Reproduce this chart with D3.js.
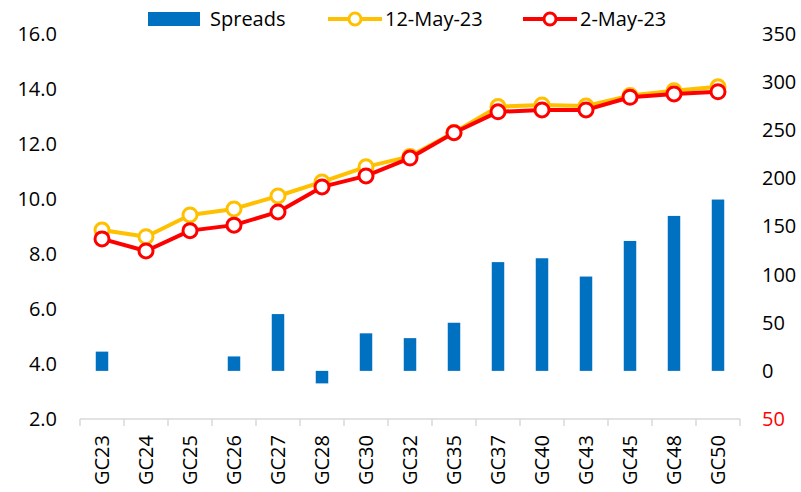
<!DOCTYPE html>
<html>
<head>
<meta charset="utf-8">
<script src="https://cdn.jsdelivr.net/npm/d3@7"></script>
<style>
  body { margin: 0; background: #fff; }
  text { font-family: "Open Sans", Lato, sans-serif; fill: #000; }
</style>
</head>
<body>
<svg id="chart"></svg>
<script>
const bonds = ['GC23', 'GC24', 'GC25', 'GC26', 'GC27', 'GC28', 'GC30', 'GC32',
  'GC35', 'GC37', 'GC40', 'GC43', 'GC45', 'GC48', 'GC50'];
const spreads = [20, 0, 0, 15, 59, -13, 39, 34, 50, 113, 117, 98, 135, 161, 178];
const may12 = [8.87, 8.63, 9.42, 9.64, 10.11, 10.62, 11.17, 11.55, 12.42, 13.36, 13.42, 13.38, 13.76, 13.94, 14.08];
const may2 = [8.55, 8.11, 8.85, 9.05, 9.53, 10.44, 10.84, 11.49, 12.41, 13.17, 13.24, 13.24, 13.7, 13.82, 13.9];
const leftTicks = [2, 4, 6, 8, 10, 12, 14, 16];
const rightTicks = [-50, 0, 50, 100, 150, 200, 250, 300, 350];

const width = 801;
const height = 492;
const m = { top: 34, right: 61, bottom: 73, left: 80 };

const svg = d3.select('#chart')
  .attr('width', width)
  .attr('height', height);

const x = d3.scaleBand()
  .domain(bonds)
  .range([m.left, width - m.right]);

const yL = d3.scaleLinear()
  .domain([2, 16])
  .range([height - m.bottom, m.top]);

const yR = d3.scaleLinear()
  .domain([-50, 350])
  .range([height - m.bottom, m.top]);

const fontSize = 20;

// left axis
svg.append('g')
  .attr('transform', `translate(${m.left - 23},0)`)
  .call(d3.axisLeft(yL).tickValues(leftTicks).tickFormat(d3.format('.1f')).tickSize(0).tickPadding(0))
  .call(g => g.select('.domain').remove())
  .selectAll('text')
    .style('font-size', fontSize + 'px')
    .attr('font-family', null);

// right axis
svg.append('g')
  .attr('transform', `translate(${width - m.right + 22},0)`)
  .call(d3.axisRight(yR).tickValues(rightTicks).tickFormat(d => Math.abs(d)).tickSize(0).tickPadding(0))
  .call(g => g.select('.domain').remove())
  .selectAll('text')
    .style('font-size', fontSize + 'px')
    .attr('font-family', null)
    .style('fill', d => d < 0 ? '#ff0000' : '#000');

// bars
const barW = 12.5;
svg.append('g')
  .selectAll('rect')
  .data(bonds.map((b, i) => ({ b, v: spreads[i] })).filter(d => d.v !== 0))
  .enter().append('rect')
    .attr('x', d => x(d.b) + x.bandwidth() / 2 - barW / 2)
    .attr('width', barW)
    .attr('y', d => yR(Math.max(0, d.v)))
    .attr('height', d => Math.abs(yR(d.v) - yR(0)))
    .attr('fill', '#0070c0');

// x axis
const xAxis = svg.append('g')
  .attr('transform', `translate(0,${height - m.bottom})`);
xAxis.append('line')
  .attr('x1', m.left).attr('x2', width - m.right)
  .attr('stroke', '#d9d9d9').attr('stroke-width', 1.5);
xAxis.selectAll('.tick-mark')
  .data(d3.range(bonds.length + 1))
  .enter().append('line')
    .attr('x1', i => m.left + i * x.step())
    .attr('x2', i => m.left + i * x.step())
    .attr('y1', 0).attr('y2', 7)
    .attr('stroke', '#d9d9d9').attr('stroke-width', 1.5);
xAxis.selectAll('text')
  .data(bonds)
  .enter().append('text')
    .attr('transform', d => `translate(${x(d) + x.bandwidth() / 2 + 7},16) rotate(-90)`)
    .attr('text-anchor', 'end')
    .style('font-size', fontSize + 'px')
    .text(d => d);

// lines
const series = [
  { name: '12-May-23', values: may12, color: '#ffc000' },
  { name: '2-May-23', values: may2, color: '#ff0000' },
];

const line = d3.line()
  .x((d, i) => x(bonds[i]) + x.bandwidth() / 2)
  .y(d => yL(d));

series.forEach(s => {
  const g = svg.append('g');
  g.append('path')
    .attr('d', line(s.values))
    .attr('fill', 'none')
    .attr('stroke', s.color)
    .attr('stroke-width', 4)
    .attr('stroke-linejoin', 'round');
  g.selectAll('circle')
    .data(s.values)
    .enter().append('circle')
      .attr('cx', (d, i) => x(bonds[i]) + x.bandwidth() / 2)
      .attr('cy', d => yL(d))
      .attr('r', 7)
      .attr('fill', '#fff')
      .attr('stroke', s.color)
      .attr('stroke-width', 3);
});

// legend
const legend = svg.append('g');
legend.append('rect')
  .attr('x', 148).attr('y', 12).attr('width', 52).attr('height', 14)
  .attr('fill', '#0070c0');
legend.append('text')
  .attr('x', 210).attr('y', 26)
  .style('font-size', fontSize + 'px')
  .text('Spreads');

const legendX = [328, 523];
series.forEach((s, i) => {
  const lx = legendX[i];
  legend.append('line')
    .attr('x1', lx).attr('x2', lx + 54)
    .attr('y1', 19).attr('y2', 19)
    .attr('stroke', s.color).attr('stroke-width', 4);
  legend.append('circle')
    .attr('cx', lx + 27).attr('cy', 19).attr('r', 6)
    .attr('fill', '#fff').attr('stroke', s.color).attr('stroke-width', 3);
  legend.append('text')
    .attr('x', lx + 57).attr('y', 26)
    .style('font-size', fontSize + 'px')
    .text(s.name);
});
</script>
</body>
</html>
